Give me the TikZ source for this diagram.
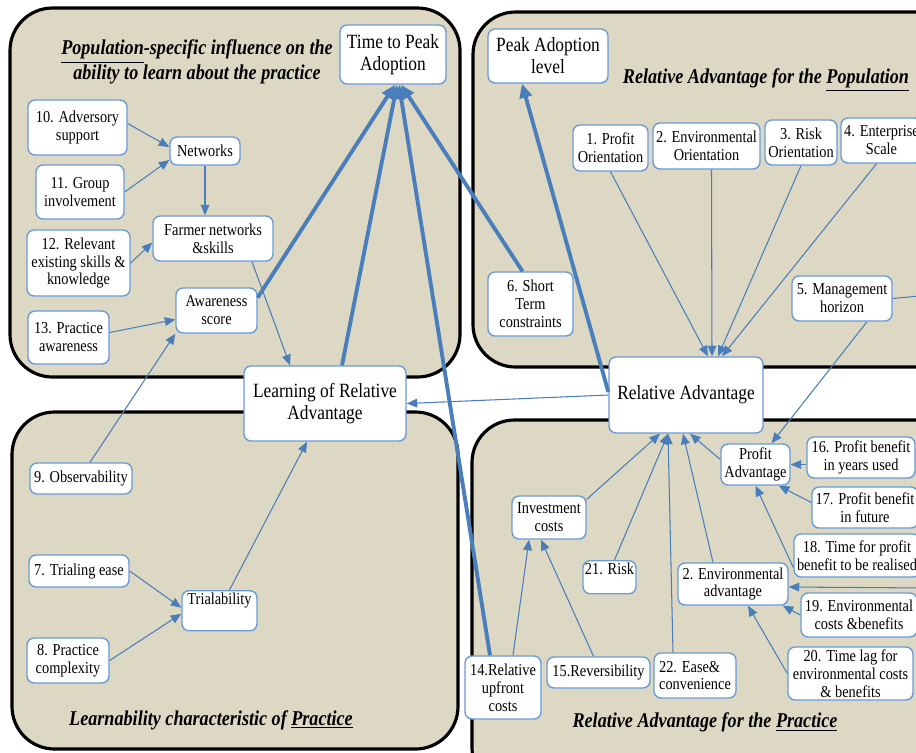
\documentclass[tikz,border=0pt]{standalone}
\usepackage{fontspec}
\setmainfont{Liberation Serif}[FakeStretch=0.86]
\usetikzlibrary{arrows.meta}
\definecolor{panelfill}{HTML}{DDD8C3}
\definecolor{linkblue}{HTML}{4A7EBB}
\definecolor{boxblue}{HTML}{6A9BD8}

\begin{document}
\begin{tikzpicture}[x=0.02cm,y=-0.02cm,
  panel/.style={draw=black,line width=1.8pt,fill=panelfill,rounded corners=0.85cm},
  box/.style={draw=boxblue,line width=0.8pt,fill=white,rounded corners=4pt,align=center,inner sep=1pt,font=\fontsize{9.5}{10.2}\selectfont},
  bigbox/.style={box,font=\fontsize{11.5}{12.5}\selectfont},
  heading/.style={align=center,font=\fontsize{12}{12.5}\selectfont\bfseries\itshape},
  link/.style={draw=linkblue,line width=0.6pt,-{Triangle[length=6pt,width=5pt]}},
  strong/.style={draw=linkblue,line width=2.2pt,-{Triangle[length=8pt,width=7pt]}}]
\useasboundingbox (0,0) rectangle (916,752);
\clip (0,0) rectangle (916,752);

% the four panels
\draw [panel] (10,8) rectangle (460,377);
\draw [panel] (473,12) rectangle (960,367);
\draw [panel] (12,412) rectangle (458,749);
\draw [panel] (472,420) rectangle (960,790);

\node [heading] (hpop) at (197,62) {\underline{Population}-specific influence on the\\ability to learn about the practice};
\node [heading] (hrap) at (766,80) {Relative Advantage for the \underline{Population}};
\node [heading] (hlrn) at (211,720) {Learnability characteristic of \underline{Practice}};
\node [heading] (hrpr) at (705,722) {Relative Advantage for the \underline{Practice}};

% main outcomes
\node [bigbox,minimum width=2.12cm,minimum height=1.18cm] (tpa) at (393,54.5) {Time to Peak\\Adoption};
\node [bigbox,minimum width=2.4cm,minimum height=1.08cm] (peak) at (548,56) {Peak Adoption\\level};
\node [bigbox,minimum width=3.24cm,minimum height=1.5cm] (lra) at (325,403.5) {Learning of Relative\\Advantage};
\node [bigbox,minimum width=3.08cm,minimum height=1.52cm] (ra) at (686,395) {Relative Advantage};

% population-specific learning
\node [box,minimum width=1.98cm,minimum height=1.1cm] (adv) at (77.5,127.5) {10. Adversory\\support};
\node [box,minimum width=1.4cm,minimum height=0.56cm] (net) at (205,151) {Networks};
\node [box,minimum width=1.76cm,minimum height=1.08cm] (grp) at (80,192) {11. Group\\involvement};
\node [box,minimum width=2.4cm,minimum height=0.9cm] (farm) at (213,238.5) {Farmer networks\\\&skills};
\node [box,minimum width=2.06cm,minimum height=1.32cm] (skill) at (78.5,263) {12. Relevant\\existing skills \&\\knowledge};
\node [box,minimum width=1.62cm,minimum height=0.9cm] (aware) at (216.5,310.5) {Awareness\\score};
\node [box,minimum width=1.62cm,minimum height=1.06cm] (prac) at (68.5,337.5) {13. Practice\\awareness};

% learnability
\node [box,minimum width=2.04cm,minimum height=0.62cm] (obs) at (81,478.5) {9. Observability};
\node [box,minimum width=2cm,minimum height=0.64cm] (tease) at (79,571) {7. Trialing ease};
\node [box,anchor=north,minimum width=1.5cm,inner ysep=2pt,text height=6pt,text depth=12.8pt] (trial) at (219.5,590) {Trialability};
\node [box,minimum width=1.64cm,minimum height=0.9cm] (cplx) at (68,660.5) {8. Practice\\complexity};

% relative advantage for the population
\node [box,minimum width=1.5cm,minimum height=0.92cm] (po) at (610.5,148) {1. Profit\\Orientation};
\node [box,minimum width=2.14cm,minimum height=0.92cm] (eo) at (706.5,146) {2. Environmental\\Orientation};
\node [box,minimum width=1.44cm,minimum height=0.9cm] (ro) at (801,142.5) {3. Risk\\Orientation};
\node [box,minimum width=1.62cm,minimum height=0.9cm] (es) at (881.5,140.5) {4. Enterprise\\Scale};
\node [box,minimum width=1.7cm,minimum height=1.28cm] (stc) at (530.5,304) {6. Short\\Term\\constraints};
\node [box,minimum width=2cm,minimum height=0.9cm] (mh) at (842,298.5) {5. Management\\horizon};

% relative advantage for the practice
\node [box,minimum width=1.38cm,minimum height=0.82cm] (pa) at (755.5,464.5) {Profit\\Advantage};
\node [box,minimum width=2.16cm,minimum height=0.82cm] (pb16) at (861,457.5) {16. Profit benefit\\in years used};
\node [box,minimum width=2.12cm,minimum height=0.82cm] (pb17) at (865,507.5) {17. Profit benefit\\in future};
\node [box,minimum width=2.52cm,minimum height=0.86cm] (tp18) at (857,555.5) {18. Time for profit\\benefit to be realised};
\node [box,minimum width=1.48cm,minimum height=0.86cm] (inv) at (549,517.5) {Investment\\costs};
\node [box,anchor=north,minimum width=1.06cm,inner ysep=2pt,text height=6pt,text depth=8.8pt] (risk) at (609.5,560) {21. Risk};
\node [box,minimum width=2.2cm,minimum height=0.84cm] (ea) at (733,584) {2. Environmental\\advantage};
\node [box,minimum width=2.32cm,minimum height=0.88cm] (ec19) at (859,615) {19. Environmental\\costs \&benefits};
\node [box,minimum width=2.5cm,minimum height=1.06cm] (tl20) at (850.5,673.5) {20. Time lag for\\environmental costs\\\& benefits};
\node [box,minimum width=1.52cm,minimum height=1.26cm] (ruc) at (503,687.5) {14.Relative\\upfront\\costs};
\node [box,minimum width=2.06cm,minimum height=0.62cm] (rev) at (598.5,672.5) {15.Reversibility};
\node [box,align=left,minimum width=1.64cm,minimum height=0.9cm] (ease) at (695,675.5) {22. Ease\&\\convenience};

\coordinate (offmh) at (930,295);
\coordinate (offea) at (930,588);

% thin links
\draw [link] ([shift={(0,-4)}]adv.east) -- ([shift={(0,-4)}]net.west);
\draw [link] (grp.east) -- ([shift={(0,9)}]net.west);
\draw [link] (net.south) -- (net.south |- farm.north);
\draw [link] (skill.east) -- ([shift={(0,4)}]farm.west);
\draw [link] ([shift={(0,-5)}]prac.east) -- ([shift={(0,9)}]aware.west);
\draw [link] ([shift={(39,0)}]farm.south) -- ([shift={(-35,0)}]lra.north);
\draw [link] ([shift={(9,0)}]obs.north) -- (aware.south west);
\draw [link] (tease.east) -- ([shift={(0,-3)}]trial.west);
\draw [link] (cplx.east) -- ([shift={(0,3)}]trial.west);
\draw [link] ([shift={(10,0)}]trial.north) -- ([shift={(-18,0)}]lra.south);
\draw [link] (ra.west) -- (lra.east);

\draw [link] (po.south) -- ([shift={(22,0)}]ra.north);
\draw [link] ([shift={(5,0)}]eo.south) -- ([shift={(26,0)}]ra.north);
\draw [link] (ro.south) -- ([shift={(32,0)}]ra.north);
\draw [link] ([shift={(-5,0)}]es.south) -- ([shift={(36,0)}]ra.north);
\draw [link] ([shift={(25,0)}]mh.south) -- ([shift={(16,0)}]pa.north);
\draw [draw=linkblue,line width=0.6pt] (mh.east) -- (offmh);

\draw [link] ([shift={(0,-5)}]pa.west) -- ([shift={(4,0)}]ra.south);
\draw [link] ([shift={(0,4)}]inv.north east) -- ([shift={(-26,0)}]ra.south);
\draw [link] ([shift={(5,0)}]risk.north) -- ([shift={(-18,0)}]ra.south);
\draw [link] ([shift={(-22,0)}]ease.north) -- ([shift={(-18,0)}]ra.south);
\draw [link] ([shift={(-20,0)}]ea.north) -- ([shift={(-3,0)}]ra.south);
\draw [link] (pb16.west |- pa.east) -- (pa.east);
\draw [link] ([shift={(0,-5)}]pb17.west) -- ([shift={(-12,0)}]pa.south east);
\draw [link] ([shift={(0,12)}]tp18.west) -- (pa.south);
\draw [link] (ec19.west) -- ([shift={(-6,0)}]ea.south east);
\draw [link] (tl20.west) -- ([shift={(15,0)}]ea.south);
\draw [link] (offea) -- ([shift={(0,3)}]ea.east);
\draw [link] ([shift={(10,0)}]ruc.north) -- ([shift={(-20,0)}]inv.south);
\draw [link] ([shift={(-5,0)}]rev.north) -- ([shift={(-8,0)}]inv.south);

% thick links
\draw [strong] ([shift={(0,-13)}]aware.east) -- ([shift={(2,0)}]tpa.south);
\draw [strong] ([shift={(17,0)}]lra.north) -- ([shift={(4,0)}]tpa.south);
\draw [strong] ([shift={(-13,0)}]ruc.north) -- ([shift={(6,0)}]tpa.south);
\draw [strong] ([shift={(-8,0)}]stc.north) -- ([shift={(8,0)}]tpa.south);
\draw [strong] ([shift={(0,-3)}]ra.west) -- ([shift={(-26,0)}]peak.south);
\end{tikzpicture}
\end{document}
